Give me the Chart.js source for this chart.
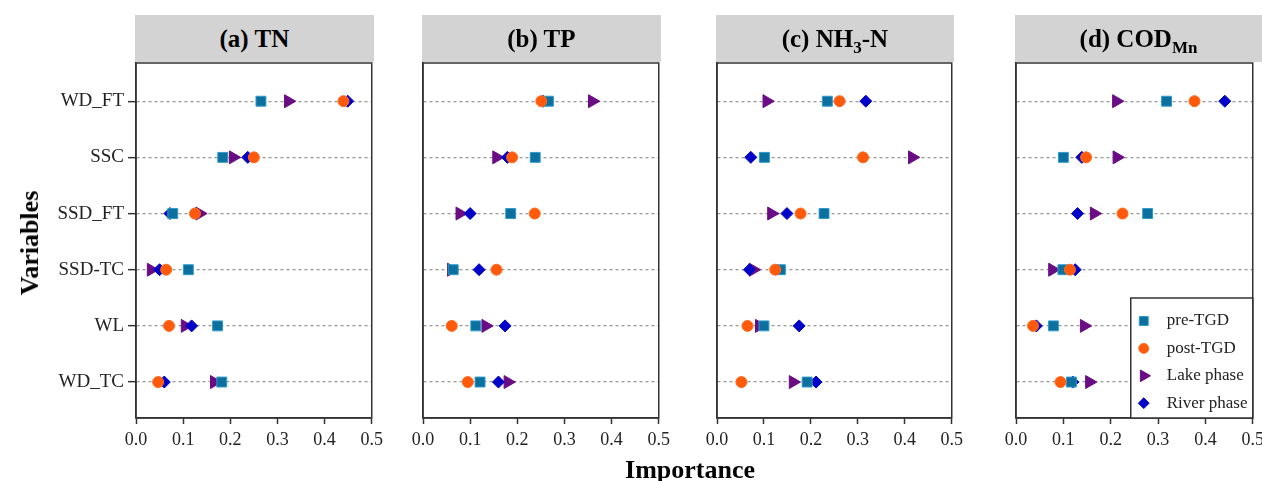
<!DOCTYPE html>
<html><head><meta charset="utf-8">
<script src="https://cdn.jsdelivr.net/npm/chart.js@4.4.1/dist/chart.umd.min.js"></script>
<style>
html,body{margin:0;padding:0;background:#fff;}
#wrap{position:relative;width:1262px;height:481px;overflow:hidden;font-family:'Liberation Serif','Times New Roman',serif;color:#000;}
canvas{position:absolute;top:0;}
.hdr{position:absolute;top:15px;height:47px;background:#d3d3d3;font-weight:bold;font-size:25px;line-height:47px;text-align:center;white-space:nowrap;}
.hdr sub{font-size:17px;line-height:0;vertical-align:-6px;}
#ylab{position:absolute;left:30px;top:243px;transform:translate(-50%,-50%) rotate(-90deg);font-weight:bold;font-size:26px;white-space:nowrap;}
#xlab{position:absolute;left:690px;top:456px;transform:translateX(-50%);font-weight:bold;font-size:26px;line-height:28px;white-space:nowrap;}
</style></head>
<body>
<div id="wrap">
  <canvas id="c0" width="388" height="481" style="left:0px"></canvas>
  <canvas id="c1" width="280" height="481" style="left:395px"></canvas>
  <canvas id="c2" width="278" height="481" style="left:690px"></canvas>
  <canvas id="c3" width="284" height="481" style="left:985px"></canvas>
  <div class="hdr" id="h0">(a) TN</div>
  <div class="hdr" id="h1">(b) TP</div>
  <div class="hdr" id="h2">(c) NH<sub>3</sub>-N</div>
  <div class="hdr" id="h3">(d) COD<sub>Mn</sub></div>
  <div id="ylab">Variables</div>
  <div id="xlab">Importance</div>
</div>
<script>
// ---------- data ----------
const categories = ['WD_FT', 'SSC', 'SSD_FT', 'SSD-TC', 'WL', 'WD_TC'];
const xTicks = [0.0, 0.1, 0.2, 0.3, 0.4, 0.5];
const seriesNames = ['pre-TGD', 'post-TGD', 'Lake phase', 'River phase'];

const tnPre   = [0.265, 0.184, 0.078, 0.111, 0.173, 0.182];
const tnPost  = [0.440, 0.250, 0.125, 0.064, 0.070, 0.047];
const tnLake  = [0.323, 0.206, 0.135, 0.032, 0.104, 0.166];
const tnRiver = [0.449, 0.237, 0.072, 0.050, 0.118, 0.060];

const tpPre   = [0.266, 0.238, 0.186, 0.064, 0.112, 0.121];
const tpPost  = [0.251, 0.189, 0.237, 0.156, 0.061, 0.095];
const tpLake  = [0.359, 0.156, 0.078, 0.060, 0.133, 0.180];
const tpRiver = [0.255, 0.179, 0.100, 0.119, 0.174, 0.160];

const nhPre   = [0.235, 0.101, 0.228, 0.135, 0.100, 0.192];
const nhPost  = [0.261, 0.311, 0.178, 0.124, 0.065, 0.052];
const nhLake  = [0.106, 0.416, 0.116, 0.077, 0.090, 0.162];
const nhRiver = [0.317, 0.072, 0.149, 0.069, 0.175, 0.211];

const codPre   = [0.318, 0.100, 0.278, 0.099, 0.079, 0.117];
const codPost  = [0.377, 0.148, 0.225, 0.114, 0.036, 0.094];
const codLake  = [0.212, 0.213, 0.165, 0.077, 0.144, 0.155];
const codRiver = [0.441, 0.139, 0.130, 0.125, 0.043, 0.120];

const panelData = [
  [tnPre, tnPost, tnLake, tnRiver],
  [tpPre, tpPost, tpLake, tpRiver],
  [nhPre, nhPost, nhLake, nhRiver],
  [codPre, codPost, codLake, codRiver]
];

// ---------- styles / layout ----------
const FONT = "'Liberation Serif','Times New Roman',serif";
const markerStyles = [
  {pointStyle: 'rect',     pointRadius: 7,   pointRotation: 0,  backgroundColor: '#0d6f9e', borderColor: '#2b9acb', borderWidth: 1, order: 1},
  {pointStyle: 'circle',   pointRadius: 5.5, pointRotation: 0,  backgroundColor: '#ff5a0c', borderColor: '#ff6a1e', borderWidth: 1, order: 0},
  {pointStyle: 'triangle', pointRadius: 7.5, pointRotation: 90, backgroundColor: '#6a0d84', borderColor: '#6a0d84', borderWidth: 1, order: 3},
  {pointStyle: 'rectRot',  pointRadius: 6,   pointRotation: 0,  backgroundColor: '#0000c8', borderColor: '#0000c8', borderWidth: 1, order: 2}
];
const yAxisWidths = [136, 28, 27, 31];
const padRight = [16, 16, 16, 16];

const framePlugin = {
  id: 'frame',
  beforeDatasetsDraw(chart) {
    const {ctx, chartArea: a} = chart;
    ctx.save();
    ctx.strokeStyle = '#333';
    ctx.lineWidth = 1.5;
    ctx.strokeRect(a.left, a.top, a.right - a.left, a.bottom - a.top);
    ctx.restore();
  }
};

const boxLegendPlugin = {
  id: 'boxLegend',
  afterDatasetsDraw(chart, args, opts) {
    if (!opts || !opts.show) return;
    const {ctx, chartArea: a} = chart;
    const left = a.right - 122, top = a.bottom - 120;
    ctx.save();
    ctx.fillStyle = '#fff';
    ctx.fillRect(left, top, a.right - left, a.bottom - top);
    ctx.strokeStyle = '#333';
    ctx.lineWidth = 1.5;
    ctx.strokeRect(left, top, a.right - left, a.bottom - top);
    chart.data.datasets.forEach((ds, i) => {
      const y = top + 23 + i * 27.4;
      ctx.fillStyle = ds.backgroundColor;
      ctx.strokeStyle = ds.borderColor;
      ctx.lineWidth = ds.borderWidth;
      Chart.helpers.drawPoint(ctx, {
        pointStyle: ds.pointStyle, radius: ds.pointRadius * 0.9,
        rotation: ds.pointRotation, borderWidth: ds.borderWidth
      }, left + 13, y);
      ctx.fillStyle = '#222';
      ctx.font = "17px " + FONT;
      ctx.textBaseline = 'middle';
      ctx.textAlign = 'left';
      ctx.fillText(ds.label, left + 36, y);
    });
    ctx.restore();
  }
};

function makePanel(p) {
  const first = p === 0;
  const datasets = seriesNames.map((name, s) => Object.assign({
    label: name,
    data: panelData[p][s].map((v, i) => ({x: v, y: i})),
    showLine: false
  }, markerStyles[s]));

  const chart = new Chart(document.getElementById('c' + p), {
    type: 'scatter',
    data: {datasets},
    options: {
      responsive: false,
      animation: false,
      events: [],
      layout: {padding: {top: 63, right: padRight[p], bottom: 0, left: 0}},
      plugins: {
        legend: {display: false},
        tooltip: {enabled: false},
        boxLegend: {show: p === 3}
      },
      scales: {
        x: {
          type: 'linear', min: 0, max: 0.5,
          afterBuildTicks: s => { s.ticks = xTicks.map(v => ({value: v})); },
          afterFit: s => { s.height = 63; },
          ticks: {callback: v => Number(v).toFixed(1), font: {family: FONT, size: 18}, color: '#222', padding: 5, maxRotation: 0},
          grid: {drawOnChartArea: false, drawTicks: true, tickLength: 6, tickColor: '#333', tickWidth: 1.5},
          border: {color: '#333', width: 1.5}
        },
        y: {
          type: 'linear', reverse: true, min: -0.68, max: 5.64,
          afterBuildTicks: s => { s.ticks = categories.map((c, i) => ({value: i})); },
          afterFit: s => { s.width = yAxisWidths[p]; },
          ticks: {display: first, callback: v => categories[v], font: {family: FONT, size: 19}, color: '#222', padding: 4},
          grid: {color: '#9a9a9a', lineWidth: 1.3, drawTicks: first, tickLength: 8, tickColor: '#333', tickWidth: 1.5},
          border: {color: '#333', width: 1.5, dash: [3, 3]}
        }
      }
    },
    plugins: [framePlugin, boxLegendPlugin]
  });

  const canvasLeft = parseFloat(document.getElementById('c' + p).style.left);
  const a = chart.chartArea;
  const h = document.getElementById('h' + p);
  h.style.left = (canvasLeft + a.left - 1) + 'px';
  h.style.width = (p === 3 ? (1262 - canvasLeft - a.left + 1) : (a.right - a.left + 3)) + 'px';
  return chart;
}

[0, 1, 2, 3].forEach(makePanel);
</script>
</body></html>
